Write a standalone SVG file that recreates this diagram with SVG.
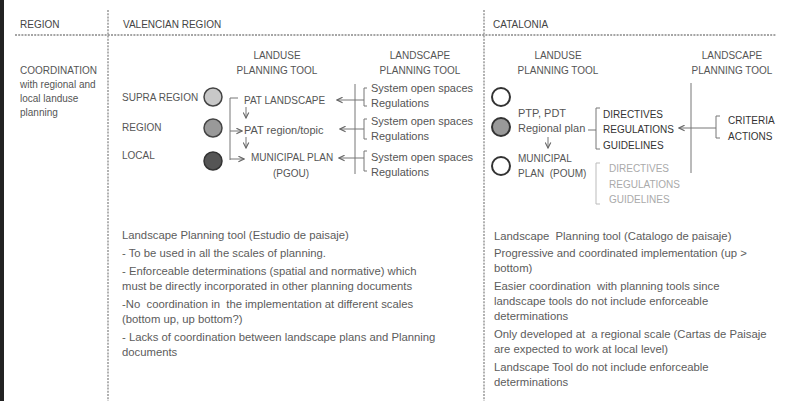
<svg xmlns="http://www.w3.org/2000/svg" width="798" height="401" viewBox="0 0 798 401">
<defs>
<marker id="ah" viewBox="0 0 10 10" refX="9" refY="5" markerWidth="7" markerHeight="7" orient="auto" markerUnits="userSpaceOnUse">
<path d="M1,1 L9,5 L1,9" fill="none" stroke="#666" stroke-width="1.6"/>
</marker>
</defs>
<style>
text{font-family:"Liberation Sans",Arial,sans-serif;font-size:11px;fill:#555;white-space:pre}
.h{font-size:10px;fill:#444}
.c{font-size:10px;fill:#555}
.m{text-anchor:middle}
.t{fill:#333}
.n{font-size:11.3px;fill:#5c5c5c}
.lt{fill:#aaa;font-size:10px}
.ln{stroke:#777;stroke-width:1;fill:none}
.lg{stroke:#bbb;stroke-width:1;fill:none}
.ar{stroke:#777;stroke-width:1;fill:none;marker-end:url(#ah)}
.dash{stroke:#888;stroke-width:1.3;stroke-dasharray:2 1.2;fill:none}
</style>
<rect x="0" y="0" width="798" height="401" fill="#fff"/>
<rect x="0" y="0" width="4" height="401" fill="#222"/>
<g id="grid">
<line class="dash" x1="15" y1="35" x2="776" y2="35"/>
<line class="dash" x1="108" y1="10" x2="108" y2="401"/>
<line class="dash" x1="484" y1="10" x2="484" y2="401"/>
</g>
<g id="headers">
<text class="h" x="20" y="28">REGION</text>
<text class="h" x="123" y="28">VALENCIAN REGION</text>
<text class="h" x="493" y="28">CATALONIA</text>
</g>
<g id="left-col">
<text class="c" x="20" y="74">COORDINATION</text>
<text x="20" y="88" style="font-size:10px">with regional and</text>
<text x="20" y="102" style="font-size:10px">local landuse</text>
<text x="20" y="116" style="font-size:10px">planning</text>
</g>
<g id="val-heads">
<text class="c m" x="277" y="59">LANDUSE</text>
<text class="c m" x="277" y="74">PLANNING TOOL</text>
<text class="c m" x="420" y="59">LANDSCAPE</text>
<text class="c m" x="420" y="74">PLANNING TOOL</text>
</g>
<g id="val-levels">
<text class="c" x="122" y="101">SUPRA REGION</text>
<circle cx="213" cy="97" r="9" fill="#c8c8c8" stroke="#444" stroke-width="1.5"/>
<text class="c" x="122" y="131">REGION</text>
<circle cx="213" cy="128" r="9" fill="#999" stroke="#444" stroke-width="1.5"/>
<text class="c" x="122" y="159">LOCAL</text>
<circle cx="213" cy="161" r="9" fill="#555" stroke="#333" stroke-width="1.5"/>
</g>
<g id="val-landuse">
<text class="c" x="244" y="104">PAT LANDSCAPE</text>
<text x="244" y="134">PAT region/topic</text>
<text class="c" x="251" y="161">MUNICIPAL PLAN</text>
<text class="c m" x="291" y="177">(PGOU)</text>
</g>
<g id="val-landscape">
<text x="371" y="92">System open spaces</text>
<text x="371" y="107">Regulations</text>
<text x="371" y="125">System open spaces</text>
<text x="371" y="140">Regulations</text>
<text x="371" y="161">System open spaces</text>
<text x="371" y="176">Regulations</text>
</g>
<g id="cat-heads">
<text class="c m" x="558" y="59">LANDUSE</text>
<text class="c m" x="558" y="74">PLANNING TOOL</text>
<text class="c m" x="732" y="59">LANDSCAPE</text>
<text class="c m" x="732" y="74">PLANNING TOOL</text>
</g>
<g id="cat-levels">
<circle cx="501" cy="97" r="9" fill="#fff" stroke="#333" stroke-width="2"/>
<circle cx="501" cy="127" r="9" fill="#999" stroke="#333" stroke-width="2"/>
<circle cx="501" cy="166" r="9" fill="#fff" stroke="#333" stroke-width="2"/>
</g>
<g id="cat-landuse">
<text x="518" y="117">PTP, PDT</text>
<text x="518" y="132">Regional plan</text>
<text class="c" x="518" y="162">MUNICIPAL</text>
<text class="c" x="518" y="177">PLAN  (POUM)</text>
</g>
<g id="cat-determinations">
<text class="c t" x="603" y="118">DIRECTIVES</text>
<text class="c t" x="603" y="133">REGULATIONS</text>
<text class="c t" x="603" y="149">GUIDELINES</text>
</g>
<g id="cat-determinations-local">
<text class="lt" x="609" y="172">DIRECTIVES</text>
<text class="lt" x="609" y="188">REGULATIONS</text>
<text class="lt" x="609" y="203">GUIDELINES</text>
</g>
<g id="cat-landscape">
<text class="c t" x="728" y="124">CRITERIA</text>
<text class="c t" x="728" y="140">ACTIONS</text>
</g>
<g id="connectors">
<path class="ln" d="M238,98 H230 V160"/>
<line class="ar" x1="230" y1="131" x2="242" y2="131"/>
<line class="ar" x1="230" y1="159" x2="244" y2="159"/>
<line class="ar" x1="246" y1="107" x2="246" y2="118"/>
<line class="ar" x1="246" y1="137" x2="246" y2="148"/>
<line class="ln" x1="355" y1="84" x2="355" y2="174"/>
<path class="ln" d="M367,88 H364 V106 H367"/>
<path class="ln" d="M367,119 H364 V139 H367"/>
<path class="ln" d="M367,151 H364 V171 H367"/>
<line class="ar" x1="364" y1="100" x2="337" y2="100"/>
<line class="ar" x1="364" y1="129" x2="340" y2="129"/>
<line class="ar" x1="364" y1="158" x2="339" y2="158"/>
<line class="ln" x1="588" y1="130" x2="596" y2="130"/>
<path class="ln" d="M600,108 H596 V149 H600"/>
<line class="ar" x1="548" y1="137" x2="548" y2="148"/>
<path class="lg" d="M600,163 H596 V204 H600"/>
<line class="ln" x1="691" y1="83" x2="691" y2="173"/>
<path class="ln" d="M720,116 H716 V138 H720"/>
<line class="ar" x1="716" y1="128" x2="679" y2="128"/>
</g>
<g id="val-notes">
<text class="n t" x="122" y="239">Landscape Planning tool (Estudio de paisaje)</text>
<text class="n" x="122" y="257">- To be used in all the scales of planning.</text>
<text class="n" x="122" y="275">- Enforceable determinations (spatial and normative) which</text>
<text class="n" x="122" y="290">must be directly incorporated in other planning documents</text>
<text class="n" x="122" y="308">-No  coordination in  the implementation at different scales</text>
<text class="n" x="122" y="323">(bottom up, up bottom?)</text>
<text class="n" x="122" y="341">- Lacks of coordination between landscape plans and Planning</text>
<text class="n" x="122" y="356">documents</text>
</g>
<g id="cat-notes">
<text class="n t" x="494" y="240">Landscape  Planning tool (Catalogo de paisaje)</text>
<text class="n" x="494" y="257">Progressive and coordinated implementation (up &gt;</text>
<text class="n" x="494" y="272">bottom)</text>
<text class="n" x="494" y="290">Easier coordination  with planning tools since</text>
<text class="n" x="494" y="305">landscape tools do not include enforceable</text>
<text class="n" x="494" y="320">determinations</text>
<text class="n" x="494" y="338">Only developed at  a regional scale (Cartas de Paisaje</text>
<text class="n" x="494" y="353">are expected to work at local level)</text>
<text class="n" x="494" y="371">Landscape Tool do not include enforceable</text>
<text class="n" x="494" y="386">determinations</text>
</g>
</svg>
